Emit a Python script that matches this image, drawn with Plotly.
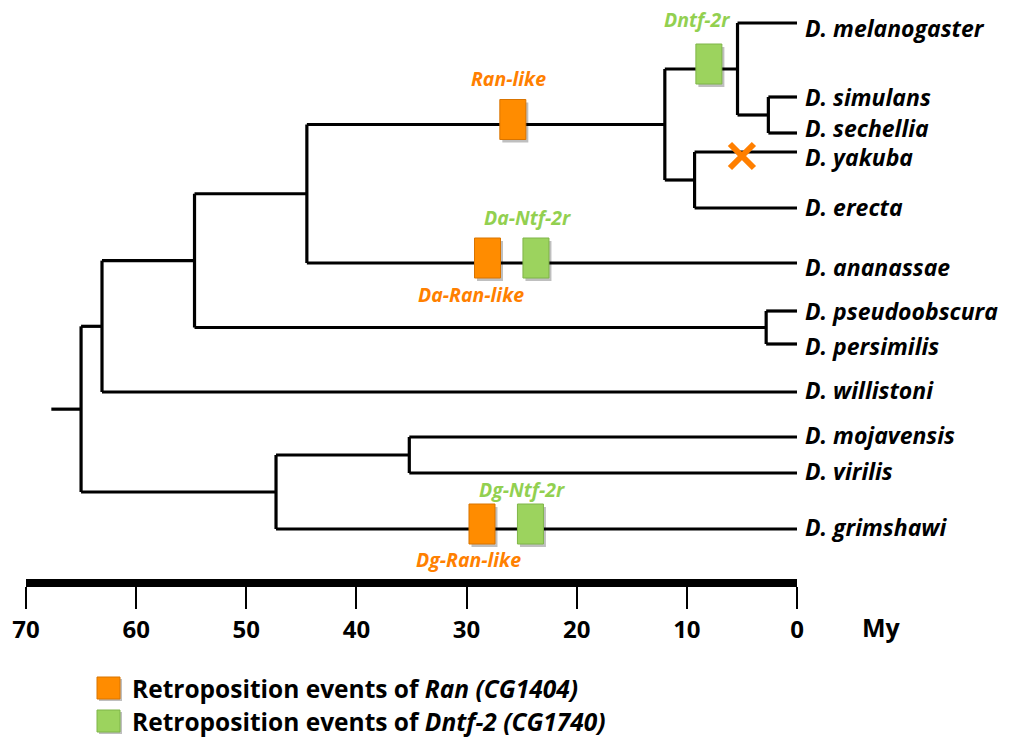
import plotly.graph_objects as go

# ---------------- data ----------------
species = ["D. melanogaster", "D. simulans", "D. sechellia", "D. yakuba", "D. erecta",
           "D. ananassae", "D. pseudoobscura", "D. persimilis", "D. willistoni",
           "D. mojavensis", "D. virilis", "D. grimshawi"]

# internal nodes: name, age (My), children
node_names = ["root", "A", "B", "C", "D", "E", "F", "G", "P", "H", "I"]
node_ages = [65.0, 63.1, 54.7, 44.5, 12.0, 5.4, 2.6, 9.3, 2.8, 47.3, 35.2]
node_children = [["A", "H"], ["B", "D. willistoni"], ["C", "P"], ["D", "D. ananassae"],
                 ["E", "G"], ["D. melanogaster", "F"], ["D. simulans", "D. sechellia"],
                 ["D. yakuba", "D. erecta"], ["D. pseudoobscura", "D. persimilis"],
                 ["I", "D. grimshawi"], ["D. mojavensis", "D. virilis"]]
root_stem_age = 67.7

# retroposition events
event_names = ["Ran-like", "Dntf-2r", "Da-Ran-like", "Da-Ntf-2r", "Dg-Ran-like", "Dg-Ntf-2r"]
event_genes = ["Ran", "Dntf-2", "Ran", "Dntf-2", "Ran", "Dntf-2"]
event_ages = [25.8, 8.0, 28.1, 23.7, 28.6, 24.2]
event_branch = ["D", "E", "D. ananassae", "D. ananassae", "D. grimshawi", "D. grimshawi"]

# gene loss (Dntf-2r) on the D. yakuba branch
loss_branch = "D. yakuba"
loss_age = 5.0

time_ticks = [70, 60, 50, 40, 30, 20, 10, 0]
legend_texts = ["Retroposition events of <i>Ran (CG1404)</i>",
                "Retroposition events of <i>Dntf-2 (CG1740)</i>"]

# ---------------- layout / style ----------------
W, H = 1015, 738
PX_LEFT, PX_RIGHT = 26, 797          # pixel position of 70 My and 0 My
AXIS_TOP = 579                       # pixel row of axis bar top
tip_rows = [23, 97, 133, 152, 208, 263, 311, 344, 392, 437, 473, 529]
label_dy = [-4.5, 0.5, 5, -5, 1.5, -4, 0, -2, 2, 2, 2, 2]
label_off = {"Ran-like": (-4, -46), "Dntf-2r": (-12, -50), "Da-Ran-like": (-17, 31),
             "Da-Ntf-2r": (-8, -46), "Dg-Ran-like": (-13, 30), "Dg-Ntf-2r": (-8, -40)}
ORANGE = "#FF8C00"
ORANGE_TXT = "#FF8000"
GREEN = "#9CD35E"
GREEN_TXT = "#92D050"
FONT = "Open Sans"
px_per_my = (PX_RIGHT - PX_LEFT) / 70.0
BOX_W = 26 / px_per_my
BOX_TOP, BOX_BOT = -25, 15

# ---------------- tree geometry ----------------
age = {n: a for n, a in zip(node_names, node_ages)}
children = {n: c for n, c in zip(node_names, node_children)}
for s in species:
    age[s] = 0.0
ypos = {s: r for s, r in zip(species, tip_rows)}


def place(n):
    if n in ypos:
        return ypos[n]
    ys = [place(c) for c in children[n]]
    ypos[n] = (min(ys) + max(ys)) / 2
    return ypos[n]


place("root")

lx, ly = [root_stem_age, age["root"], None], [ypos["root"], ypos["root"], None]
for n in node_names:
    ys = [ypos[c] for c in children[n]]
    lx += [age[n], age[n], None]
    ly += [min(ys), max(ys), None]
    for c in children[n]:
        lx += [age[n], age[c], None]
        ly += [ypos[c], ypos[c], None]

fig = go.Figure()
fig.add_trace(go.Scatter(x=lx, y=ly, mode="lines", line=dict(color="black", width=3.2),
                         hoverinfo="skip", showlegend=False))

shapes = []
annotations = []
for name, gene, t, br in zip(event_names, event_genes, event_ages, event_branch):
    y = ypos[br]
    fill = ORANGE if gene == "Ran" else GREEN
    edge = "#D97400" if gene == "Ran" else "#7FB548"
    shift = 2.5 / px_per_my
    shapes.append(dict(type="rect", xref="x", yref="y", x0=t + BOX_W / 2 - shift, x1=t - BOX_W / 2 - shift,
                       y0=y + BOX_TOP + 3, y1=y + BOX_BOT + 3, line=dict(width=0),
                       fillcolor="rgba(0,0,0,0.25)", layer="above"))
    shapes.append(dict(type="rect", xref="x", yref="y", x0=t + BOX_W / 2, x1=t - BOX_W / 2,
                       y0=y + BOX_TOP, y1=y + BOX_BOT, line=dict(width=1, color=edge),
                       fillcolor=fill, layer="above"))
    dx, dy = label_off[name]
    annotations.append(dict(x=t, y=y + dy, xref="x", yref="y", xshift=dx, showarrow=False,
                            text="<b><i>%s</i></b>" % name,
                            font=dict(family=FONT, size=19.5,
                                      color=ORANGE_TXT if gene == "Ran" else GREEN_TXT),
                            xanchor="center", yanchor="middle"))

# loss mark
fig.add_trace(go.Scatter(x=[loss_age], y=[ypos[loss_branch] + 4], mode="markers",
                         marker=dict(symbol="x-thin", size=24,
                                     line=dict(width=6, color="#FF7F00")),
                         hoverinfo="skip", showlegend=False))

# species labels
for s, dy in zip(species, label_dy):
    annotations.append(dict(x=0, y=ypos[s], xref="x", yref="y", xshift=6, yshift=dy,
                            showarrow=False, text="<b><i>%s</i></b>" % s,
                            font=dict(family=FONT, size=23, color="black"),
                            xanchor="left", yanchor="middle"))

# unit label
annotations.append(dict(x=0, xref="x", xshift=84, y=1 - 627 / H, yref="paper",
                        showarrow=False, text="<b>My</b>",
                        font=dict(family=FONT, size=25, color="black"),
                        xanchor="center", yanchor="middle"))

# legend
for i, (txt, col) in enumerate(zip(legend_texts, [ORANGE, GREEN])):
    yc = 688 + 33 * i
    shapes.append(dict(type="rect", xref="paper", yref="paper",
                       x0=99 / W, x1=122 / W, y0=1 - (yc + 13) / H, y1=1 - (yc - 9) / H,
                       line=dict(width=0), fillcolor="rgba(0,0,0,0.25)"))
    shapes.append(dict(type="rect", xref="paper", yref="paper",
                       x0=97 / W, x1=120 / W, y0=1 - (yc + 11) / H, y1=1 - (yc - 11) / H,
                       line=dict(width=1, color="#D97400" if i == 0 else "#7FB548"),
                       fillcolor=col))
    annotations.append(dict(x=130 / W, y=1 - yc / H, xref="paper", yref="paper",
                            showarrow=False, text="<b>%s</b>" % txt,
                            font=dict(family=FONT, size=24.5, color="black"),
                            xanchor="left", yanchor="middle"))

fig.update_layout(
    width=W, height=H, margin=dict(l=0, r=0, t=0, b=0, pad=0, autoexpand=False),
    paper_bgcolor="white", plot_bgcolor="white",
    shapes=shapes, annotations=annotations, showlegend=False,
    xaxis=dict(range=[70, 0], domain=[PX_LEFT / W, PX_RIGHT / W], automargin=False,
               showgrid=False, zeroline=False, showline=True, linecolor="black",
               linewidth=8, ticks="outside", ticklen=22, tickwidth=2, tickcolor="black",
               tickvals=time_ticks, ticktext=[str(t) for t in time_ticks],
               tickfont=dict(family=FONT, size=24, color="black", weight="bold")),
    yaxis=dict(range=[AXIS_TOP, 0], domain=[1 - AXIS_TOP / H, 1], visible=False,
               automargin=False),
)

fig.write_html("out.html", config={"displayModeBar": False},
               post_script="document.body.style.margin='0px';document.body.style.overflow='hidden';")
